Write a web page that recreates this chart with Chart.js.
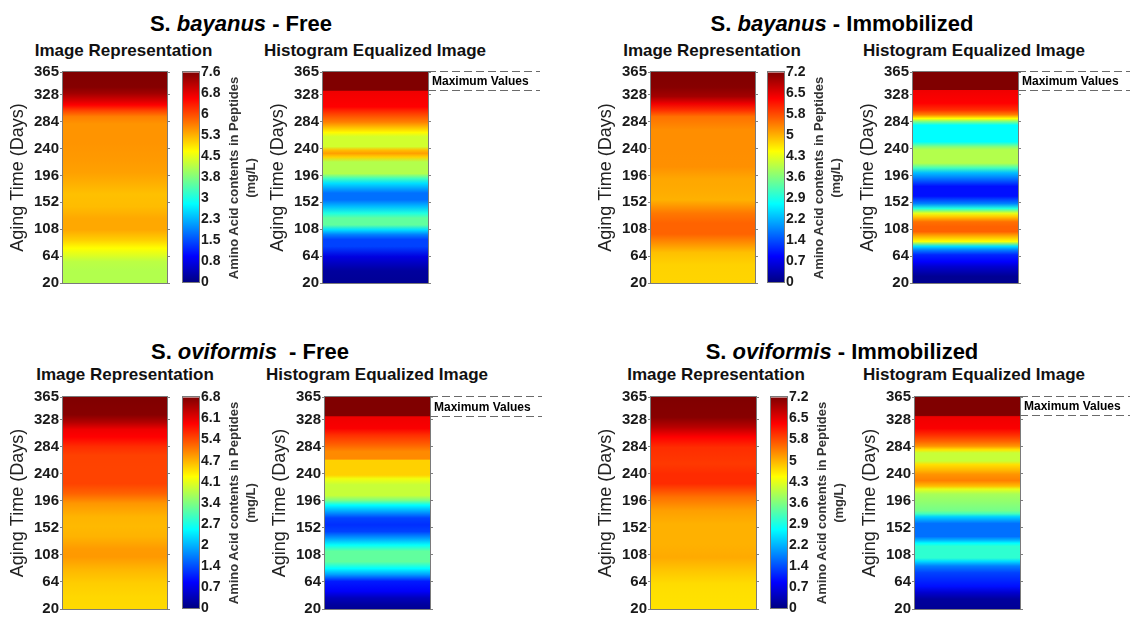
<!DOCTYPE html>
<html>
<head>
<meta charset="utf-8">
<script src="https://cdn.jsdelivr.net/npm/chart.js@4.4.1/dist/chart.umd.min.js"></script>
<style>
html, body { margin: 0; padding: 0; background: #fff; overflow: hidden; }
body { width: 1130px; height: 617px; position: relative; font-family: 'Liberation Sans', Arial, sans-serif; color: #000; }
canvas, .txt { position: absolute; }
.titulo { font-size: 22px; font-weight: bold; line-height: 22px; text-align: center; white-space: nowrap; }
.sub { font-size: 17px; font-weight: bold; line-height: 17px; text-align: center; white-space: nowrap; color: #111; }
.cbl { font-size: 13px; font-weight: bold; line-height: 17px; text-align: center; white-space: nowrap; color: #333; transform: rotate(-90deg); }
</style>
</head>
<body>
<script>
// ---- Dados ----
const diasTicks = [20, 64, 108, 152, 196, 240, 284, 328, 365];

// S. bayanus - Free
const bayFreeTitulo = 'S. <i>bayanus</i> - Free';
const bayFreeDias = [20, 40, 55, 65, 77, 90, 107, 125, 145, 165, 185, 200, 220, 250, 280, 292, 302, 311, 320, 330, 340, 365];
const bayFreeAA = [4.18, 4.18, 4.25, 4.5, 4.75, 5.1, 5.4, 5.4, 5.25, 5.22, 5.35, 5.45, 5.5, 5.55, 5.55, 5.7, 6.15, 6.65, 7.0, 7.35, 7.55, 7.6];
const bayFreeCbMax = 7.6;
const bayFreeCbLabels = ['0', '0.8', '1.5', '2.3', '3', '3.8', '4.5', '5.3', '6', '6.8', '7.6'];
const bayFreeHistDias = [20, 40, 63, 80, 91, 99, 107, 115, 126, 134, 145, 156, 167, 183, 191, 199, 218, 226, 232, 237, 243, 259, 266, 283, 292, 302, 308, 334, 335, 365];
const bayFreeHistNivel = [0.02, 0.03, 0.095, 0.19, 0.19, 0.25, 0.345, 0.47, 0.47, 0.405, 0.31, 0.235, 0.235, 0.345, 0.44, 0.55, 0.55, 0.67, 0.72, 0.69, 0.58, 0.58, 0.63, 0.75, 0.79, 0.84, 0.875, 0.89, 1, 1];

// S. bayanus - Immobilized
const bayImobTitulo = 'S. <i>bayanus</i> - Immobilized';
const bayImobDias = [20, 50, 70, 85, 100, 118, 134, 156, 175, 190, 210, 240, 270, 292, 302, 313, 325, 340, 365];
const bayImobAA = [4.8, 4.82, 4.95, 5.28, 5.6, 5.6, 5.45, 5.05, 5.1, 5.12, 5.28, 5.3, 5.3, 5.5, 5.95, 6.4, 6.95, 7.15, 7.2];
const bayImobCbMax = 7.2;
const bayImobCbLabels = ['0', '0.7', '1.4', '2.2', '2.9', '3.6', '4.3', '5', '5.8', '6.5', '7.2'];
const bayImobHistDias = [20, 31, 47, 55, 66, 74, 80, 88, 96, 104, 112, 120, 129, 134, 142, 150, 162, 178, 192, 200, 208, 216, 238, 243, 251, 278, 284, 289, 295, 303, 314, 335, 336, 365];
const bayImobHistNivel = [0.015, 0.02, 0.08, 0.125, 0.16, 0.25, 0.345, 0.625, 0.70, 0.78, 0.78, 0.765, 0.67, 0.6, 0.405, 0.25, 0.14, 0.14, 0.25, 0.31, 0.44, 0.55, 0.55, 0.5, 0.375, 0.375, 0.5, 0.625, 0.75, 0.83, 0.875, 0.89, 1, 1];

// S. oviformis - Free
const oviFreeTitulo = 'S. <i>oviformis</i>&nbsp; - Free';
const oviFreeDias = [20, 40, 62, 84, 105, 118, 138, 155, 170, 192, 208, 224, 250, 270, 284, 300, 312, 324, 336, 365];
const oviFreeAA = [4.5, 4.52, 4.58, 4.73, 4.93, 4.92, 4.76, 4.72, 4.75, 4.95, 5.3, 5.5, 5.5, 5.52, 5.65, 5.95, 6.05, 6.46, 6.75, 6.8];
const oviFreeCbMax = 6.8;
const oviFreeCbLabels = ['0', '0.7', '1.4', '2', '2.7', '3.4', '4.1', '4.7', '5.4', '6.1', '6.8'];
const oviFreeHistDias = [20, 27, 38, 49, 65, 76, 86, 97, 114, 124, 135, 146, 157, 168, 178, 189, 197, 205, 222, 232, 238, 262, 264, 276, 287, 303, 314, 333, 334, 365];
const oviFreeHistNivel = [0.02, 0.03, 0.06, 0.12, 0.15, 0.28, 0.375, 0.47, 0.47, 0.38, 0.28, 0.19, 0.17, 0.19, 0.28, 0.375, 0.5, 0.57, 0.57, 0.61, 0.67, 0.67, 0.74, 0.74, 0.78, 0.83, 0.88, 0.89, 1, 1];

// S. oviformis - Immobilized
const oviImobTitulo = 'S. <i>oviformis</i> - Immobilized';
const oviImobDias = [20, 45, 61, 82, 104, 126, 158, 180, 202, 224, 240, 256, 283, 300, 316, 332, 365];
const oviImobAA = [4.7, 4.72, 4.75, 4.9, 5.1, 5.05, 5.05, 5.18, 5.5, 6.0, 6.0, 5.9, 5.98, 6.3, 6.8, 7.15, 7.2];
const oviImobCbMax = 7.2;
const oviImobCbLabels = ['0', '0.7', '1.4', '2.2', '2.9', '3.6', '4.3', '5', '5.8', '6.5', '7.2'];
const oviImobHistDias = [20, 36, 47, 57, 79, 90, 98, 103, 122, 127, 132, 138, 159, 170, 175, 180, 207, 215, 220, 229, 239, 247, 255, 261, 274, 279, 285, 293, 303, 314, 333, 335, 365];
const oviImobHistNivel = [0.02, 0.03, 0.08, 0.14, 0.19, 0.25, 0.345, 0.42, 0.42, 0.375, 0.3, 0.235, 0.235, 0.33, 0.44, 0.49, 0.54, 0.6, 0.69, 0.75, 0.73, 0.69, 0.655, 0.57, 0.57, 0.65, 0.73, 0.78, 0.83, 0.88, 0.89, 1, 1];

// pontos de quebra do colormap jet
const jetPassos = [0, 0.125, 0.375, 0.625, 0.875, 1];

// ---- Layout (pixels) ----
const FAM = "'Liberation Sans', Arial, sans-serif";
const FAM_N = "'Liberation Sans Narrow', 'Arial Narrow', 'Liberation Sans', Arial, sans-serif";
const paineis = [
    { titulo: bayFreeTitulo, dias: bayFreeDias, aa: bayFreeAA, cbMax: bayFreeCbMax, cbLabels: bayFreeCbLabels, hDias: bayFreeHistDias, hNivel: bayFreeHistNivel,
      top: 72, bottom: 283, imgL: 63, imgR: 167, cbL: 183, cbR: 199, histL: 323, histR: 428, tCx: 241, tCy: 24, sCy: 50.5, s1Cx: 123.5, s2Cx: 375 },
    { titulo: bayImobTitulo, dias: bayImobDias, aa: bayImobAA, cbMax: bayImobCbMax, cbLabels: bayImobCbLabels, hDias: bayImobHistDias, hNivel: bayImobHistNivel,
      top: 72, bottom: 283, imgL: 651, imgR: 755, cbL: 768, cbR: 784, histL: 913, histR: 1018, tCx: 842, tCy: 24, sCy: 50.5, s1Cx: 712, s2Cx: 974 },
    { titulo: oviFreeTitulo, dias: oviFreeDias, aa: oviFreeAA, cbMax: oviFreeCbMax, cbLabels: oviFreeCbLabels, hDias: oviFreeHistDias, hNivel: oviFreeHistNivel,
      top: 397, bottom: 609, imgL: 63, imgR: 167, cbL: 183, cbR: 199, histL: 325, histR: 430, tCx: 250, tCy: 352, sCy: 374.5, s1Cx: 125, s2Cx: 377 },
    { titulo: oviImobTitulo, dias: oviImobDias, aa: oviImobAA, cbMax: oviImobCbMax, cbLabels: oviImobCbLabels, hDias: oviImobHistDias, hNivel: oviImobHistNivel,
      top: 397, bottom: 609, imgL: 651, imgR: 756, cbL: 771, cbR: 787, histL: 915, histR: 1020, tCx: 842, tCy: 352, sCy: 374.5, s1Cx: 716, s2Cx: 974 }
];

function jet(t) {
    t = Math.max(0, Math.min(1, t));
    const c = v => Math.round(255 * Math.max(0, Math.min(1, v)));
    return 'rgb(' + c(1.5 - Math.abs(4 * t - 3)) + ',' + c(1.5 - Math.abs(4 * t - 2)) + ',' + c(1.5 - Math.abs(4 * t - 1)) + ')';
}

// gradiente vertical construído pela escala y do gráfico
function gradiente(chart, dias, niveis) {
    const { ctx, chartArea, scales } = chart;
    if (!chartArea) return '#ccc';
    const y = scales.y;
    const p0 = y.getPixelForValue(dias[0]);
    const p1 = y.getPixelForValue(dias[dias.length - 1]);
    const g = ctx.createLinearGradient(0, p0, 0, p1);
    dias.forEach((d, i) => {
        g.addColorStop((y.getPixelForValue(d) - p0) / (p1 - p0), jet(niveis[i]));
    });
    return g;
}

const moldura = {
    id: 'moldura',
    afterDatasetsDraw(chart) {
        const { ctx, chartArea: a } = chart;
        ctx.save();
        ctx.strokeStyle = '#7a7a7a';
        ctx.lineWidth = 1;
        ctx.strokeRect(Math.round(a.left) - 0.5, Math.round(a.top) - 0.5, Math.round(a.right - a.left) + 1, Math.round(a.bottom - a.top) + 1);
        ctx.restore();
    }
};

const maximos = {
    id: 'maximos',
    afterDraw(chart, args, o) {
        const { ctx, chartArea: a, scales } = chart;
        const y = scales.y;
        const yA = Math.round(y.getPixelForValue(o.ate)) - 0.5;
        const yB = Math.round(y.getPixelForValue(o.de)) + 0.5;
        ctx.save();
        ctx.strokeStyle = '#6a6a6a';
        ctx.lineWidth = 1;
        ctx.setLineDash([8, 4]);
        ctx.beginPath();
        ctx.moveTo(a.right, yA); ctx.lineTo(a.right + 112, yA);
        ctx.moveTo(a.right, yB); ctx.lineTo(a.right + 112, yB);
        ctx.stroke();
        ctx.setLineDash([]);
        ctx.fillStyle = '#000';
        ctx.font = 'bold 12px ' + FAM_N;
        ctx.textBaseline = 'middle';
        ctx.fillText('Maximum Values', a.right + 4, (yA + yB) / 2 + 1);
        ctx.restore();
    }
};

function novoCanvas(left, top, w, h) {
    const cv = document.createElement('canvas');
    cv.width = w; cv.height = h;
    cv.style.left = left + 'px'; cv.style.top = top + 'px';
    cv.style.width = w + 'px'; cv.style.height = h + 'px';
    document.body.appendChild(cv);
    return cv;
}

function novoTexto(cls, html, cx, cy, w, h) {
    const d = document.createElement('div');
    d.className = 'txt ' + cls;
    d.innerHTML = html;
    d.style.left = (cx - w / 2) + 'px';
    d.style.top = (cy - h / 2) + 'px';
    d.style.width = w + 'px';
    d.style.height = h + 'px';
    document.body.appendChild(d);
    return d;
}

function eixoDias(esquerda) {
    return {
        type: 'linear', position: esquerda ? 'left' : 'right', min: diasTicks[0], max: diasTicks[diasTicks.length - 1],
        afterBuildTicks: s => { s.ticks = diasTicks.map(v => ({ value: v })); },
        afterFit: s => { s.width = esquerda ? 63 : 4; },
        grid: { drawOnChartArea: false, tickLength: 3, color: '#808080' },
        border: { display: false },
        ticks: { display: esquerda, padding: 1, autoSkip: false, color: '#1a1a1a', font: { family: FAM_N, size: 15, weight: 'bold' } },
        title: { display: esquerda, text: 'Aging Time (Days)', color: '#222', font: { family: FAM, size: 18 }, padding: { top: 7, bottom: 0 } }
    };
}

function opcoesBase(padRight) {
    return {
        responsive: false, animation: false, events: [],
        layout: { padding: { top: 10, bottom: 10, left: 0, right: padRight } },
        plugins: { legend: { display: false }, tooltip: { enabled: false } }
    };
}

function faixa(dias, niveis) {
    return {
        labels: [''],
        datasets: [{
            data: [[dias[0], dias[dias.length - 1]]],
            backgroundColor: c => gradiente(c.chart, dias, niveis),
            borderWidth: 0, barPercentage: 1, categoryPercentage: 1
        }]
    };
}

paineis.forEach(p => {
    const h = p.bottom - p.top + 20;

    // títulos
    novoTexto('titulo', p.titulo, p.tCx, p.tCy - 0.49 * 22 + 11, 420, 22);
    novoTexto('sub', 'Image Representation', p.s1Cx, p.sCy - 0.49 * 17 + 8.5, 260, 17);
    novoTexto('sub', 'Histogram Equalized Image', p.s2Cx, p.sCy - 0.49 * 17 + 8.5, 300, 17);

    // imagem (valores em mg/L -> colormap jet)
    const optImg = opcoesBase(0);
    optImg.scales = { x: { display: false }, y: eixoDias(true), y2: eixoDias(false) };
    new Chart(novoCanvas(p.imgL - 63, p.top - 10, 63 + (p.imgR - p.imgL) + 4, h), {
        type: 'bar',
        data: faixa(p.dias, p.aa.map(v => v / p.cbMax)),
        options: optImg,
        plugins: [moldura]
    });

    // barra de cores
    const optCb = opcoesBase(0);
    optCb.layout.padding.left = 1;
    optCb.scales = {
        x: { display: false },
        y: {
            type: 'linear', position: 'right', min: 0, max: p.cbMax,
            afterBuildTicks: s => { s.ticks = p.cbLabels.map((l, k) => ({ value: p.cbMax * k / (p.cbLabels.length - 1) })); },
            afterFit: s => { s.width = 34; },
            grid: { drawOnChartArea: false, drawTicks: false },
            border: { display: false },
            ticks: { padding: 2, autoSkip: false, color: '#1a1a1a', font: { family: FAM_N, size: 14, weight: 'bold' }, callback: (v, i) => p.cbLabels[i] }
        }
    };
    new Chart(novoCanvas(p.cbL - 1, p.top - 10, 1 + (p.cbR - p.cbL) + 34, h), {
        type: 'bar',
        data: faixa(jetPassos.map(t => t * p.cbMax), jetPassos),
        options: optCb,
        plugins: [moldura]
    });
    novoTexto('cbl', 'Amino Acid contents in Peptides<br>(mg/L)', p.cbL + 59, (p.top + p.bottom) / 2, 230, 34);

    // imagem equalizada
    const optHist = opcoesBase(112);
    optHist.scales = { x: { display: false }, y: eixoDias(true), y2: eixoDias(false) };
    const iMax = p.hNivel.indexOf(1);
    optHist.plugins.maximos = { de: p.hDias[iMax], ate: p.hDias[p.hDias.length - 1] };
    new Chart(novoCanvas(p.histL - 63, p.top - 10, 63 + (p.histR - p.histL) + 4 + 112, h), {
        type: 'bar',
        data: faixa(p.hDias, p.hNivel),
        options: optHist,
        plugins: [moldura, maximos]
    });
});
</script>
</body>
</html>
